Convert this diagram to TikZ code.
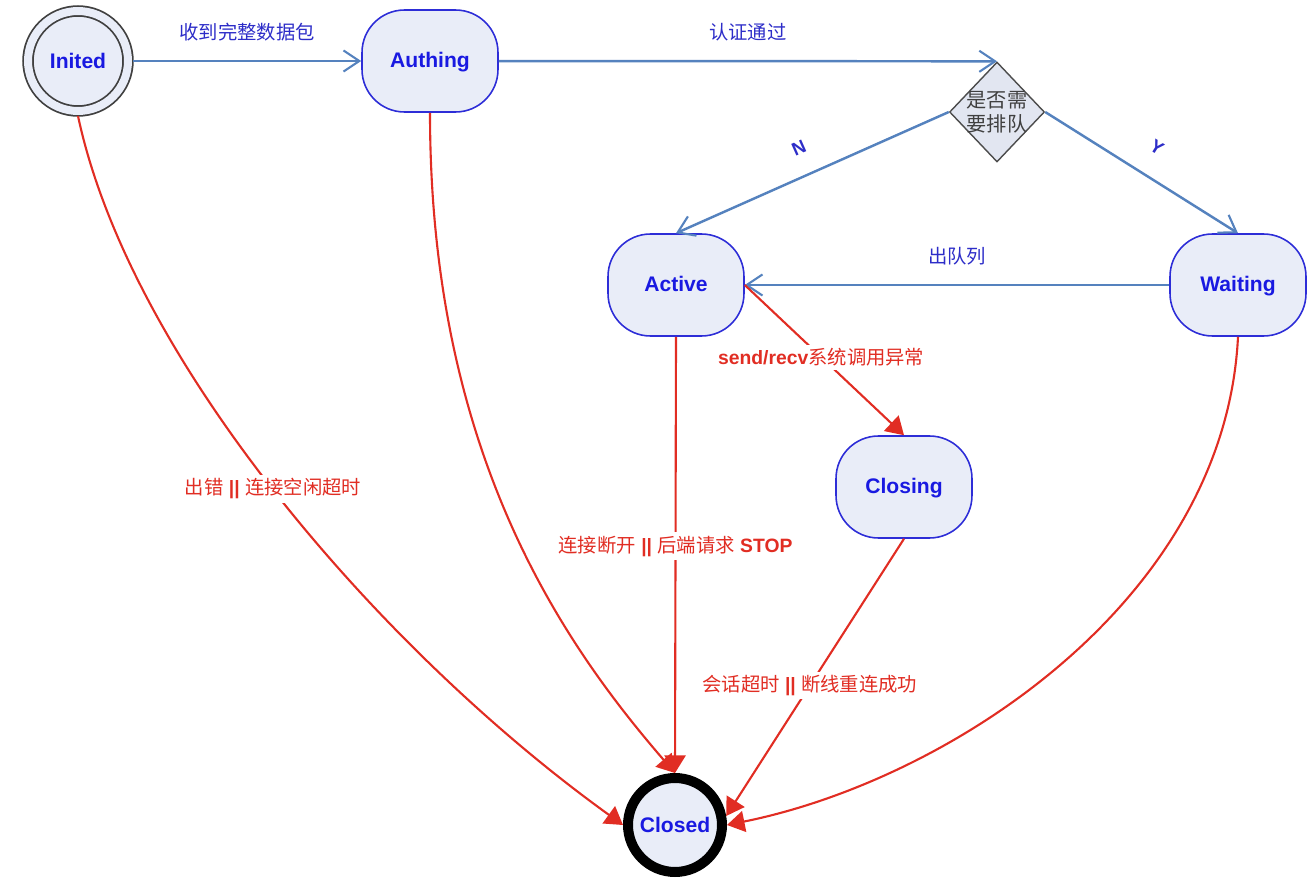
\documentclass[tikz,border=0pt]{standalone}
\usepackage{fontspec}
\setmainfont{Liberation Sans}
\newfontfamily\cjk{Noto Sans CJK SC}
\usetikzlibrary{arrows.meta,shapes.geometric}
\definecolor{statefill}{RGB}{233,237,248}
\definecolor{stateline}{RGB}{45,45,215}
\definecolor{statetext}{RGB}{25,25,225}
\definecolor{flowblue}{RGB}{85,130,190}
\definecolor{labelblue}{RGB}{45,45,200}
\definecolor{flowred}{RGB}{225,45,35}
\newcommand{\zh}[1]{{\cjk #1}}
\tikzset{
    stbox/.style={draw=stateline,fill=statefill,line width=0.9pt,rectangle,
        rounded corners=0.85cm,minimum width=2.72cm,minimum height=2.04cm,
        text height=0.72em,text depth=0pt,
        font=\fontsize{12}{14}\selectfont\bfseries,text=statetext},
    stinit/.style={circle,draw=black!75,line width=1pt,double=statefill,
        double distance=0.16cm,fill=statefill,minimum size=2cm,outer sep=0.1cm,
        font=\fontsize{12}{14}\selectfont\bfseries,text=statetext},
    stend/.style={circle,draw=black,line width=0.2cm,fill=statefill,
        minimum size=1.88cm,inner sep=0pt,
        font=\fontsize{12}{14}\selectfont\bfseries,text=statetext},
    choice/.style={diamond,draw=black!70,fill=black!3!statefill,line width=0.8pt,
        minimum width=1.9cm,minimum height=2cm,inner sep=-0.3cm,align=center,
        font=\fontsize{11.5}{13.5}\selectfont\cjk,text=black!75},
    blueflow/.style={draw=flowblue,line width=1.4pt,
        -{Straight Barb[length=9pt,width=12pt,line width=1.2pt]}},
    redflow/.style={draw=flowred,line width=1.2pt,
        -{Triangle[length=10pt,width=12pt]}},
    bluetext/.style={text=labelblue,font=\fontsize{11}{13}\selectfont\cjk},
    yesno/.style={text=labelblue,font=\fontsize{10.5}{12}\selectfont\bfseries},
    redtext/.style={text=flowred,fill=white,inner sep=2pt,
        font=\fontsize{11}{13}\selectfont}
}
\begin{document}
\begin{tikzpicture}[x=0.02cm,y=-0.02cm]
    \useasboundingbox (0,0) rectangle (1316,892);
    %% States
    \node[stinit] (inited) at (78,61) {Inited};
    \node[stbox] (authing) at (430,61) {Authing};
    \node[choice] (queue) at (997,112) {是否需\\要排队};
    \node[stbox] (active) at (676,285) {Active};
    \node[stbox] (waiting) at (1238,285) {Waiting};
    \node[stbox] (closing) at (904,487) {Closing};
    \node[stend] (closed) at (675,825) {Closed};
    %% Normal flow
    \draw[blueflow] (inited) -- (authing)
        node[midway,above=0.26cm,bluetext] {收到完整数据包};
    \draw[blueflow] (authing) -- (queue.north)
        node[midway,above=0.26cm,bluetext] {认证通过};
    \draw[blueflow] (queue.west) -- (active.north)
        node[pos=0.55,yshift=0.62cm,rotate=24,yesno] {N};
    \draw[blueflow] (queue.east) -- (waiting.north)
        node[pos=0.58,yshift=0.7cm,rotate=-32,yesno] {Y};
    \draw[blueflow] (waiting) -- (active)
        node[midway,above=0.26cm,bluetext] {出队列};
    %% Closing paths
    \draw[redflow] (active.east) -- (closing.north)
        node[pos=0.48,redtext] {\textbf{send/recv}\zh{系统调用异常}};
    \draw[redflow] (active.south) -- (closed.north)
        node[pos=0.48,redtext] {\zh{连接断开} \textbf{||} \zh{后端请求} \textbf{STOP}};
    \draw[redflow] (closing.south) -- (closed.10)
        node[pos=0.53,redtext] {\zh{会话超时} \textbf{||} \zh{断线重连成功}};
    \draw[redflow] (inited.south) .. controls (130,360) and (380,650) .. (closed.west)
        node[pos=0.49,redtext] {\zh{出错} \textbf{||} \zh{连接空闲超时}};
    \draw[redflow] (authing.south) .. controls (430,450) and (560,640) .. (closed.north);
    \draw[redflow] (waiting.south) .. controls (1225,600) and (950,780) .. (closed.east);
\end{tikzpicture}
\end{document}
